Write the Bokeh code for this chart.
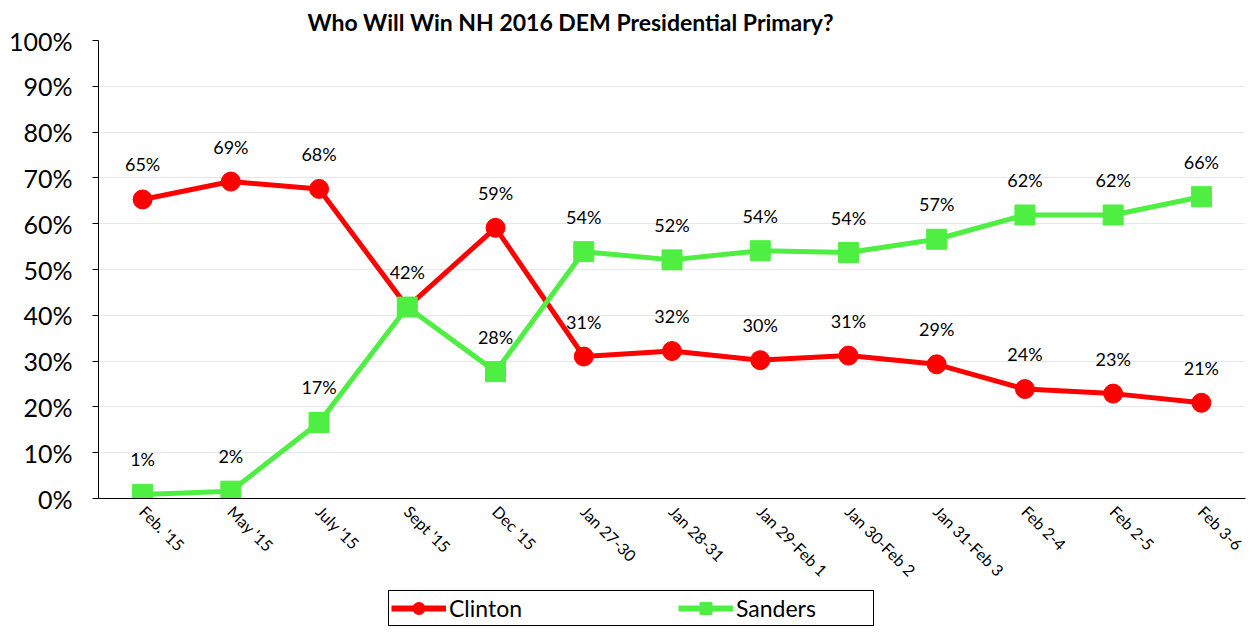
import math
from bokeh.plotting import figure
from bokeh.layouts import column
from bokeh.models import (FactorRange, Range1d, PrintfTickFormatter, FixedTicker,
                          Legend, LegendItem, ColumnDataSource, Title)
from bokeh.core.properties import value
from bokeh.embed import file_html
from bokeh.resources import INLINE

categories = ["Feb. '15", "May '15", "July '15", "Sept '15", "Dec '15", "Jan 27-30",
              "Jan 28-31", "Jan 29-Feb 1", "Jan 30-Feb 2", "Jan 31-Feb 3",
              "Feb 2-4", "Feb 2-5", "Feb 3-6"]
clinton = [65.3, 69.2, 67.6, 41.8, 59.1, 31.0, 32.2, 30.2, 31.2, 29.3, 23.9, 22.9, 20.9]
sanders = [0.9, 1.6, 16.6, 41.8, 27.7, 53.9, 52.1, 54.1, 53.7, 56.6, 61.9, 61.9, 65.9]
y_ticks = [0, 10, 20, 30, 40, 50, 60, 70, 80, 90, 100]
series_names = ["Clinton", "Sanders"]

FONT = "Lato"
RED = "#FF0000"
GREEN = "#4EEE42"

def lab(v):
    return f"{int(math.floor(v + 0.5))}%"

lab_c = [lab(v) for v in clinton]
# where both series show the same label at the same point, show it once
lab_s = ["" if lab(s) == c else lab(s) for s, c in zip(sanders, lab_c)]

src_c = ColumnDataSource(dict(x=categories, y=clinton, t=lab_c))
src_s = ColumnDataSource(dict(x=categories, y=sanders, t=lab_s))

p = figure(width=1250, height=590, x_range=FactorRange(*categories),
           y_range=Range1d(0, 100), output_backend="svg", toolbar_location=None,
           min_border_left=98, min_border_right=5, min_border_bottom=92,
           min_border_top=21)

p.add_layout(Title(text="Who Will Win NH 2016 DEM Presidential Primary?",
                   text_font=FONT, text_font_size="23px", text_font_style="bold",
                   align="left", offset=209, text_color="black"), "above")

p.outline_line_color = None
p.background_fill_color = "white"
p.border_fill_color = "white"

p.xgrid.grid_line_color = None
p.ygrid.grid_line_color = "#E3E7F3"
p.ygrid.grid_line_width = 1
p.yaxis.ticker = FixedTicker(ticks=y_ticks)
p.yaxis.formatter = PrintfTickFormatter(format="%d%%")
p.yaxis.major_label_text_font = FONT
p.yaxis.major_label_text_font_size = "25px"
p.yaxis.major_label_text_color = "black"
p.yaxis.axis_line_color = "black"
p.yaxis.major_tick_line_color = "black"
p.yaxis.major_tick_out = 6
p.yaxis.major_tick_in = 0
p.yaxis.minor_tick_line_color = None
p.yaxis.major_label_standoff = 20

p.xaxis.major_label_orientation = -math.pi / 4
p.xaxis.major_label_text_font = FONT
p.xaxis.major_label_text_font_size = "16px"
p.xaxis.major_label_text_color = "black"
p.xaxis.axis_line_color = "black"
p.xaxis.major_tick_line_color = None
p.xaxis.minor_tick_line_color = None
p.xaxis.major_label_standoff = 4

p.line("x", "y", source=src_c, line_color=RED, line_width=5)
p.scatter("x", "y", source=src_c, marker="circle", size=19,
          fill_color=RED, line_color=RED)
p.line("x", "y", source=src_s, line_color=GREEN, line_width=5)
p.scatter("x", "y", source=src_s, marker="square", size=20,
          fill_color=GREEN, line_color=GREEN)

p.text("x", "y", text="t", source=src_c, y_offset=-35, text_align="center",
       text_baseline="middle", text_font=value(FONT), text_font_size="18px",
       text_color="black")
p.text("x", "y", text="t", source=src_s, y_offset=-35, text_align="center",
       text_baseline="middle", text_font=value(FONT), text_font_size="18px",
       text_color="black")

# legend strip below the chart (series drawn out of view, only the legend shows)
lg = figure(width=1250, height=37, output_backend="svg", toolbar_location=None,
            x_range=FactorRange(*categories), y_range=Range1d(200, 300),
            min_border=0, x_axis_location=None, y_axis_location=None)
lg.outline_line_color = None
lg.xgrid.grid_line_color = None
lg.ygrid.grid_line_color = None
lg.border_fill_color = "white"
lc = lg.line("x", "y", source=src_c, line_color=RED, line_width=6)
mc = lg.scatter("x", "y", source=src_c, marker="circle", size=19,
                fill_color=RED, line_color=RED)
ls = lg.line("x", "y", source=src_s, line_color=GREEN, line_width=6)
ms = lg.scatter("x", "y", source=src_s, marker="square", size=20,
                fill_color=GREEN, line_color=GREEN)

legend = Legend(items=[LegendItem(label=series_names[0], renderers=[lc, mc]),
                       LegendItem(label=series_names[1], renderers=[ls, ms])],
                orientation="horizontal", location=(290, 1),
                glyph_width=55, glyph_height=30, label_text_font=FONT,
                label_text_font_size="23px", label_text_color="black",
                label_width=135, spacing=94,
                padding=2, label_standoff=3, margin=0,
                border_line_color="black", border_line_width=1.5,
                border_line_alpha=1,
                background_fill_color="white", background_fill_alpha=1)
lg.add_layout(legend, "center")

layout = column(p, lg, spacing=0)
open("out.html", "w").write(file_html(layout, INLINE))
